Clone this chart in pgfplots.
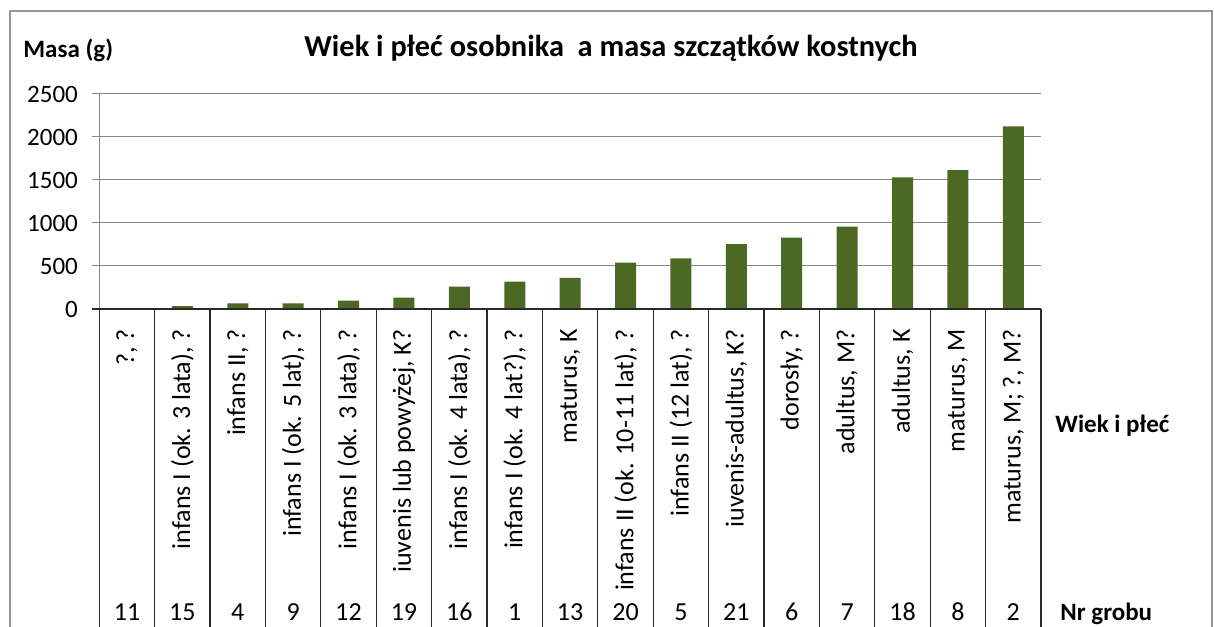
\documentclass[border=0pt]{standalone}
\usepackage{pgfplots}
\pgfplotsset{compat=1.18}
\usepackage{fontspec}
\setmainfont{Carlito}
\definecolor{barcol}{RGB}{75,105,35}
\definecolor{gridcol}{RGB}{134,134,134}
\definecolor{framecol}{RGB}{150,150,150}
\definecolor{tablecol}{RGB}{40,40,40}
\newcommand{\nr}[2]{\node[anchor=base, inner sep=0pt, yshift=-155.5pt, font=\fontsize{13}{15}\selectfont] at (axis cs:#1,0) {#2};}
\begin{document}
\begin{tikzpicture}
\useasboundingbox (0,0) rectangle (607pt,313pt);
\draw[framecol, line width=1.1pt] (5pt,-5pt) -- (5pt,307.5pt) -- (606pt,307.5pt) -- (606pt,-5pt);
\node[anchor=base, font=\bfseries\fontsize{15.2}{18}\selectfont, inner sep=0pt] at (305.5pt,284.5pt) {Wiek i płeć osobnika\ \ a masa szczątków kostnych};
\node[anchor=base west, font=\bfseries\fontsize{12.5}{15}\selectfont, inner sep=0pt] at (11.5pt,284pt) {Masa (g)};
\node[anchor=base west, font=\bfseries\fontsize{12.5}{15}\selectfont, inner sep=0pt] at (527.5pt,96.5pt) {Wiek i płeć};
\node[anchor=base west, font=\bfseries\fontsize{12.5}{15}\selectfont, inner sep=0pt] at (530pt,3pt) {Nr grobu};
\begin{axis}[
  at={(49.65pt,158.5pt)}, anchor=south west,
  scale only axis, width=470.85pt, height=107.5pt,
  xmin=-0.5, xmax=16.5, ymin=0, ymax=2500,
  ytick={0,500,1000,1500,2000,2500},
  xtick={0,...,16},
  xticklabels={{?, ?},{infans I (ok. 3 lata), ?},{infans II, ?},{infans I (ok. 5 lat), ?},{infans I (ok. 3 lata), ?},{iuvenis lub powyżej, K?},{infans I (ok. 4 lata), ?},{infans I (ok. 4 lat?), ?},{maturus, K},{infans II (ok. 10-11 lat), ?},{infans II (12 lat), ?},{iuvenis-adultus, K?},{dorosły, ?},{adultus, M?},{adultus, K},{maturus, M},{maturus, M; ?, M?}},
  xticklabel style={rotate=90, anchor=east, inner sep=0pt, font=\fontsize{13}{15}\selectfont},
  xticklabel shift=6.5pt,
  xtick style={draw=none},
  ytick pos=left,
  ytick style={draw=gridcol, line width=0.5pt},
  tick align=outside, major tick length=3.5pt,
  yticklabel style={anchor=east, inner sep=0pt, xshift=-7pt, font=\fontsize{12.5}{14}\selectfont,
     /pgf/number format/1000 sep={}},
  /pgf/number format/assume math mode=true,
  scaled y ticks=false,
  ymajorgrids, grid style={gridcol, line width=0.5pt},
  axis line style={draw=none},
  clip=false,
  ybar, bar width=10.5pt,
]
\addplot[fill=barcol, draw=none] coordinates {
(0,3) (1,33) (2,66) (3,64) (4,97) (5,132) (6,260) (7,318) (8,361)
(9,540) (10,590) (11,753) (12,831) (13,959) (14,1530) (15,1615) (16,2123)};
\draw[gridcol, line width=0.5pt] (axis cs:-0.5,0) -- (axis cs:-0.5,2500);
\draw[tablecol, line width=0.6pt] (axis cs:-0.5,0) ++(-3.5pt,0pt) -- (axis cs:16.5,0);
\pgfplotsinvokeforeach{0,...,17}{
  \draw[tablecol, line width=0.6pt] (axis cs:#1-0.5,0) -- ++(0pt,-165pt);
}
\nr{0}{11}\nr{1}{15}\nr{2}{4}\nr{3}{9}\nr{4}{12}\nr{5}{19}\nr{6}{16}\nr{7}{1}\nr{8}{13}
\nr{9}{20}\nr{10}{5}\nr{11}{21}\nr{12}{6}\nr{13}{7}\nr{14}{18}\nr{15}{8}\nr{16}{2}
\end{axis}
\end{tikzpicture}
\end{document}
